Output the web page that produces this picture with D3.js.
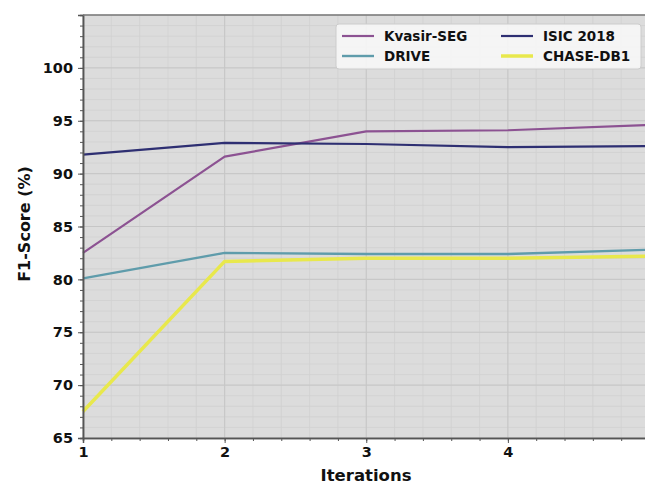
<!DOCTYPE html>
<html>
<head>
<meta charset="utf-8">
<script src="https://d3js.org/d3.v7.min.js"></script>
<style>
  body { margin: 0; background: #fff; }
  text { font-family: "DejaVu Sans", sans-serif; font-weight: bold; fill: #111; }
</style>
</head>
<body>
<div id="chart"></div>
<script>
// data
var iterations = [1, 2, 3, 4, 5]
var kvasir = [82.5, 91.6, 94.0, 94.1, 94.6]
var isic = [91.8, 92.9, 92.8, 92.5, 92.6]
var drive = [80.1, 82.5, 82.4, 82.4, 82.8]
var chase = [67.5, 81.7, 82.0, 82.0, 82.2]
var seriesNames = ["Kvasir-SEG", "ISIC 2018", "DRIVE", "CHASE-DB1"]
var yTicks = [65, 70, 75, 80, 85, 90, 95, 100]

var series = [
  {name: seriesNames[0], values: kvasir, color: "#8c5292", width: 2.2},
  {name: seriesNames[1], values: isic, color: "#2e2f72", width: 2.2},
  {name: seriesNames[2], values: drive, color: "#5f9cab", width: 2.4},
  {name: seriesNames[3], values: chase, color: "#e8e84c", width: 3.5}
]

var W = 645, H = 485
var plotLeft = 83, plotTop = 15, plotBottom = 438

var svg = d3.select("#chart").append("svg")
  .attr("width", W)
  .attr("height", H)

var x = d3.scaleLinear().domain([1, 5]).range([plotLeft, 649.5])
var y = d3.scaleLinear().domain([65, 105]).range([plotBottom, plotTop])

// plot background
svg.append("rect")
  .attr("x", plotLeft).attr("y", plotTop)
  .attr("width", W - plotLeft).attr("height", plotBottom - plotTop)
  .attr("fill", "#dcdcdc")

// minor grid
var xMinor = d3.range(1, 5.001, 0.2)
var yMinor = d3.range(65, 105.001, 1)
svg.append("g").selectAll("line")
  .data(xMinor).enter().append("line")
  .attr("x1", d => x(d)).attr("x2", d => x(d))
  .attr("y1", plotTop).attr("y2", plotBottom)
  .attr("stroke", "#d0d0d0").attr("stroke-width", 0.8)
svg.append("g").selectAll("line")
  .data(yMinor).enter().append("line")
  .attr("x1", plotLeft).attr("x2", W)
  .attr("y1", d => y(d)).attr("y2", d => y(d))
  .attr("stroke", "#d0d0d0").attr("stroke-width", 0.8)

// major grid
svg.append("g").selectAll("line")
  .data(iterations).enter().append("line")
  .attr("x1", d => x(d)).attr("x2", d => x(d))
  .attr("y1", plotTop).attr("y2", plotBottom)
  .attr("stroke", "#c6c6c6").attr("stroke-width", 1)
svg.append("g").selectAll("line")
  .data(yTicks).enter().append("line")
  .attr("x1", plotLeft).attr("x2", W)
  .attr("y1", d => y(d)).attr("y2", d => y(d))
  .attr("stroke", "#c6c6c6").attr("stroke-width", 1)

// lines
var line = d3.line()
  .x((d, i) => x(iterations[i]))
  .y(d => y(d))

series.forEach(function(s) {
  svg.append("path")
    .datum(s.values)
    .attr("fill", "none")
    .attr("stroke", s.color)
    .attr("stroke-width", s.width)
    .attr("stroke-linejoin", "round")
    .attr("d", line)
})

// axes
svg.append("g")
  .attr("transform", "translate(0," + plotBottom + ")")
  .call(d3.axisBottom(x).tickValues(iterations).tickFormat(d3.format("d")).tickSize(5).tickPadding(4))
svg.append("g")
  .attr("transform", "translate(0," + plotBottom + ")")
  .call(d3.axisBottom(x).tickValues(xMinor).tickFormat("").tickSize(3))
svg.append("g")
  .attr("transform", "translate(" + plotLeft + ",0)")
  .call(d3.axisLeft(y).tickValues(yTicks).tickSize(5).tickPadding(5))
svg.append("g")
  .attr("transform", "translate(" + plotLeft + ",0)")
  .call(d3.axisLeft(y).tickValues(yMinor).tickFormat("").tickSize(3))

svg.selectAll(".domain").attr("stroke", "#555").attr("stroke-width", 1.5)
svg.selectAll(".tick line").attr("stroke", "#555")
svg.selectAll(".tick text").style("font-size", "14.5px").style("font-family", "DejaVu Sans").style("font-weight", "bold").attr("fill", "#111")

// top spine
svg.append("line")
  .attr("x1", plotLeft).attr("x2", W)
  .attr("y1", plotTop).attr("y2", plotTop)
  .attr("stroke", "#777").attr("stroke-width", 1.5)

// axis labels
svg.append("text")
  .attr("x", 366).attr("y", 481)
  .attr("text-anchor", "middle")
  .style("font-size", "16.5px")
  .text("Iterations")
svg.append("text")
  .attr("transform", "translate(30,224) rotate(-90)")
  .attr("text-anchor", "middle")
  .style("font-size", "16px")
  .text("F1-Score (%)")

// legend
var lg = svg.append("g").attr("transform", "translate(336,24)")
lg.append("rect")
  .attr("width", 305).attr("height", 45)
  .attr("rx", 3)
  .attr("fill", "#f6f6f6").attr("fill-opacity", 0.92)
  .attr("stroke", "#cccccc")
var legendPos = [[6, 12], [165, 12], [6, 32], [165, 32]]
series.forEach(function(s, k) {
  var p = legendPos[k]
  lg.append("line")
    .attr("x1", p[0]).attr("x2", p[0] + 32)
    .attr("y1", p[1]).attr("y2", p[1])
    .attr("stroke", s.color).attr("stroke-width", s.width)
  lg.append("text")
    .attr("x", p[0] + 42).attr("y", p[1] + 5)
    .style("font-size", "13.5px")
    .text(s.name)
})
</script>
</body>
</html>
